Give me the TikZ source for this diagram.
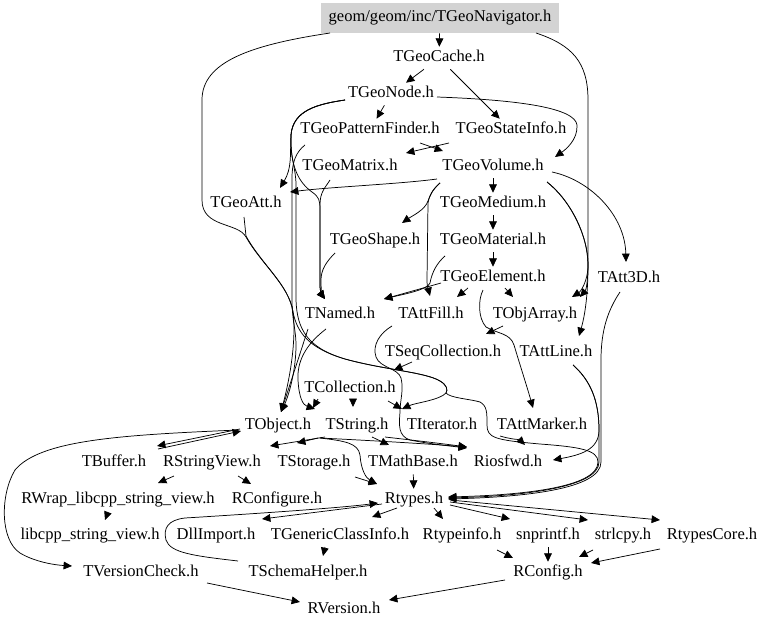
\documentclass[tikz,border=0pt]{standalone}
\usepackage{fontspec}
\setmainfont{Liberation Serif}
\usetikzlibrary{arrows.meta,calc}
\definecolor{navgray}{RGB}{211,211,211}
\newcommand\lblfont{\fontsize{12.4}{14}\selectfont}
\begin{document}
\begin{tikzpicture}[x=0.75pt,y=-0.75pt,
 n/.style={inner xsep=2pt,inner ysep=2.5pt,text height=8.5pt,text depth=3pt,font=\lblfont},
 e/.style={line width=0.55pt,-{Triangle[length=6.3pt,width=5.8pt]}}]
\useasboundingbox (0,0) rectangle (768,628);
% nodes
\node[n,fill=navgray,minimum width=178.5pt,minimum height=22.5pt] (nav) at (440,18) {geom/geom/inc/TGeoNavigator.h};
\node[n] (cache) at (439,58) {TGeoCache.h};
\node[n] (gnode) at (391,94) {TGeoNode.h};
\node[n] (pf) at (370,130) {TGeoPatternFinder.h};
\node[n] (si) at (511,130) {TGeoStateInfo.h};
\node[n] (mat) at (350,167) {TGeoMatrix.h};
\node[n] (vol) at (493,167) {TGeoVolume.h};
\node[n] (att) at (246,204) {TGeoAtt.h};
\node[n] (med) at (493,204) {TGeoMedium.h};
\node[n] (shape) at (375,241) {TGeoShape.h};
\node[n] (mate) at (493,241) {TGeoMaterial.h};
\node[n] (elem) at (493,278) {TGeoElement.h};
\node[n] (att3d) at (629,279) {TAtt3D.h};
\node[n] (named) at (340,315) {TNamed.h};
\node[n] (fill) at (431,315) {TAttFill.h};
\node[n] (objarr) at (535,315) {TObjArray.h};
\node[n] (seq) at (443,353) {TSeqCollection.h};
\node[n] (aline) at (556,353) {TAttLine.h};
\node[n] (coll) at (350,389) {TCollection.h};
\node[n] (obj) at (278,426) {TObject.h};
\node[n] (str) at (357,426) {TString.h};
\node[n] (iter) at (442,426) {TIterator.h};
\node[n] (marker) at (542,426) {TAttMarker.h};
\node[n] (buf) at (114,463) {TBuffer.h};
\node[n] (rsv) at (212,463) {RStringView.h};
\node[n] (stor) at (314,463) {TStorage.h};
\node[n] (mathb) at (413,463) {TMathBase.h};
\node[n] (ios) at (508,463) {Riosfwd.h};
\node[n] (rwrap) at (118,500) {RWrap\_libcpp\_string\_view.h};
\node[n] (rconf) at (277,500) {RConfigure.h};
\node[n] (rtypes) at (414,500) {Rtypes.h};
\node[n] (libcpp) at (90,536) {libcpp\_string\_view.h};
\node[n] (dll) at (216,536) {DllImport.h};
\node[n] (gci) at (340,536) {TGenericClassInfo.h};
\node[n] (rtinfo) at (462,536) {Rtypeinfo.h};
\node[n] (snp) at (548,536) {snprintf.h};
\node[n] (strl) at (623,536) {strlcpy.h};
\node[n] (rcore) at (712,536) {RtypesCore.h};
\node[n] (vcheck) at (141,573) {TVersionCheck.h};
\node[n] (schema) at (308,573) {TSchemaHelper.h};
\node[n] (rconfig) at (548,573) {RConfig.h};
\node[n] (rver) at (344,610) {RVersion.h};
% top edges
\draw[e] (nav) -- (cache);
\draw[e] ($(nav)+(-110,15)$) .. controls (250,45) and (202,62) .. (202,100) -- (202,200) .. controls (202,228) and (238,222) .. (246,237) .. controls (262,265) and (289,285) .. (293,312) .. controls (296,335) and (292,370) .. ($(obj)+(3,-14)$);
\draw[e] ($(nav)+(96,15)$) .. controls (572,45) and (588,62) .. (588,100) -- (588,262) .. controls (588,282) and (586,290) .. ($(objarr)+(45,-18)$);
\draw[e] (cache) -- (gnode);
\draw[e] (cache) -- (si);
\draw[e] ($(gnode)+(46,3)$) .. controls (520,100) and (575,108) .. (577,125) .. controls (578,140) and (565,150) .. ($(vol)+(62,-10)$);
\draw[e] (gnode) -- (pf);
\draw[e] ($(gnode)+(-46,6)$) .. controls (318,104) and (293,110) .. (291,135) .. controls (290,155) and (292,168) .. ($(att)+(34,-16)$);
\draw[e] ($(gnode)+(-46,6)$) .. controls (318,104) and (293,110) .. (291,135) .. controls (290,165) and (298,182) .. (312,192) .. controls (319,197) and (320,200) .. (320,210) -- (320,285) .. controls (320,292) and (322,295) .. ($(named)+(-15,-16)$);
\draw[e] ($(gnode)+(-46,6)$) .. controls (318,104) and (293,110) .. (291,135) .. controls (290,158) and (296,168) .. (296,185) -- (296,300) .. controls (297,330) and (308,348) .. (345,359) .. controls (385,370) and (425,372) .. (440,381) .. controls (447,385) and (448,390) .. (446,393) .. controls (440,400) and (415,403) .. ($(iter)+(-40,-17)$);
\draw[e] ($(pf)+(-65,15)$) .. controls (296,152) and (292,162) .. (292,178) -- (292,300) .. controls (292,320) and (296,330) .. (296,345) .. controls (296,370) and (289,395) .. ($(obj)+(3,-14)$);
\draw[e] ($(pf)+(50,13)$) -- ($(vol)+(-50,-16)$);
\draw[e] ($(si)+(-62,13)$) -- ($(mat)+(56,-14)$);
\draw[e] ($(mat)+(-20,13)$) .. controls (325,188) and (320,192) .. (320,205) -- (320,285) .. controls (320,292) and (322,295) .. ($(named)+(-15,-16)$);
\draw[e] ($(shape)+(-40,12)$) .. controls (326,262) and (321,270) .. (321,280) .. controls (321,290) and (322,295) .. ($(named)+(-15,-16)$);
\draw[e] ($(vol)+(-56,12)$) .. controls (400,184) and (330,187) .. ($(att)+(44,-12)$);
\draw[e] ($(vol)+(-53,16)$) .. controls (432,190) and (430,196) .. (428,201) .. controls (425,210) and (412,216) .. ($(shape)+(27,-18)$);
\draw[e] ($(vol)+(-53,16)$) .. controls (432,190) and (429,196) .. (428,203) -- (427,280) .. controls (427,288) and (429,292) .. ($(fill)+(-1,-19)$);
\draw[e] (vol) -- (med);
\draw[e] (med) -- (mate);
\draw[e] (mate) -- (elem);
\draw[e] ($(vol)+(59,5)$) .. controls (590,180) and (625,215) .. ($(att3d)+(-3,-17)$);
\draw[e] ($(vol)+(54,15)$) .. controls (570,200) and (588,235) .. (588,265) .. controls (588,282) and (580,292) .. ($(objarr)+(37,-18)$);
\draw[e] ($(vol)+(54,15)$) .. controls (570,200) and (588,235) .. (588,265) .. controls (588,295) and (585,315) .. ($(aline)+(23,-17)$);
\draw[e] ($(mate)+(-48,15)$) .. controls (437,263) and (432,272) .. (430,283) .. controls (428,290) and (400,295) .. ($(named)+(44,-16)$);
\draw[e] ($(elem)+(-52,5)$) -- ($(named)+(44,-16)$);
\draw[e] ($(elem)+(-25,10)$) -- ($(fill)+(26,-18)$);
\draw[e] ($(elem)+(12,10)$) -- ($(objarr)+(-22,-18)$);
\draw[e] ($(elem)+(-10,12)$) .. controls (478,300) and (478,318) .. (486,327) .. controls (498,334) and (510,333) .. (514,345) .. controls (520,365) and (528,390) .. ($(marker)+(-9,-18)$);
% middle edges
\draw[e] ($(att)+(-2,13)$) -- (246,236) .. controls (262,265) and (289,285) .. (293,312) .. controls (297,332) and (308,348) .. (345,359) .. controls (385,370) and (425,372) .. (440,381) .. controls (447,385) and (448,390) .. (446,393) .. controls (450,398) and (470,399) .. (480,402) .. controls (487,406) and (487,412) .. (487,425) .. controls (487,438) and (495,440) .. (540,444) .. controls (580,447) and (598,450) .. (598,462) .. controls (598,488) and (520,495) .. ($(rtypes)+(34,-3)$);
\draw[e] ($(objarr)+(-32,11)$) -- ($(seq)+(43,-19)$);
\draw[e] ($(seq)+(-31,9)$) -- ($(coll)+(44,-19)$);
\draw[e] ($(coll)+(38,12)$) -- ($(iter)+(-40,-17)$);
\draw[e] ($(coll)+(3,10)$) -- ($(str)+(-4,-19)$);
\draw[e] ($(coll)+(-32,10)$) -- ($(obj)+(35,-18)$);
\draw[e] ($(named)+(-32,14)$) -- ($(obj)+(3,-14)$);
\draw[e] ($(named)+(-14,14)$) .. controls (305,345) and (297,362) .. (298,380) .. controls (299,398) and (303,405) .. ($(str)+(-42,-17)$);
\draw[e] ($(fill)+(-39,11)$) .. controls (380,333) and (372,345) .. (376,357) .. controls (380,368) and (398,368) .. (401,378) .. controls (404,390) and (400,400) .. (400,412) .. controls (399,425) and (398,436) .. (410,440) .. controls (430,444) and (450,446) .. ($(ios)+(-41,-15)$);
\draw[e] ($(aline)+(17,12)$) .. controls (590,380) and (599,400) .. (599,430) -- (599,462) .. controls (599,488) and (520,496) .. ($(rtypes)+(34,-2)$);
\draw[e] ($(att3d)+(-9,13)$) .. controls (608,310) and (601,330) .. (601,360) -- (601,462) .. controls (601,490) and (520,497) .. ($(rtypes)+(34,-1)$);
\draw[e] ($(aline)+(17,12)$) .. controls (590,380) and (599,400) .. (599,430) .. controls (599,450) and (580,455) .. ($(ios)+(45,-3)$);
\draw[e] ($(marker)+(-42,10)$) .. controls (510,439) and (520,440) .. ($(ios)+(17,-18)$);
\draw[e] ($(obj)+(42,12)$) .. controls (380,441) and (430,444) .. ($(ios)+(-41,-16)$);
\draw[e] ($(str)+(28,11)$) .. controls (420,441) and (445,444) .. ($(ios)+(-41,-16)$);
\draw[e] ($(str)+(15,11)$) -- ($(mathb)+(-24,-18)$);
\draw[e] ($(obj)+(40,12)$) -- ($(stor)+(-17,-20)$);
\draw[e] ($(str)+(-32,11)$) -- ($(rsv)+(58,-17)$);
\draw[e] ($(obj)+(42,12)$) .. controls (345,441) and (358,443) .. (360,455) .. controls (361,470) and (366,478) .. ($(rtypes)+(-37,-16)$);
\draw[e] ($(stor)+(41,14)$) -- ($(rtypes)+(-37,-16)$);
\draw[e] (mathb) -- (rtypes);
\draw[e] ($(obj)+(-38,3)$) -- ($(buf)+(43,-17)$);
\draw[e] ($(buf)+(44,-14)$) -- ($(obj)+(-37,5)$);
\draw[e] ($(obj)+(-40,4)$) .. controls (120,435) and (40,440) .. (15,470) .. controls (0,495) and (0,540) .. (20,553) .. controls (35,562) and (55,565) .. ($(vcheck)+(-69,-7)$);
% lower edges
\draw[e] ($(rsv)+(-38,13)$) -- ($(rwrap)+(40,-17)$);
\draw[e] ($(rsv)+(26,13)$) -- ($(rconf)+(-26,-16)$);
\draw[e] ($(rwrap)+(-10,12)$) -- ($(libcpp)+(15,-16)$);
\draw[e] ($(rtypes)+(-32,4)$) -- ($(dll)+(46,-17)$);
\draw[e] ($(schema)+(-70,-12)$) .. controls (195,556) and (170,553) .. (166,540) .. controls (163,528) and (168,520) .. (185,518) .. controls (250,514) and (340,508) .. ($(rtypes)+(-36,3)$);
\draw[e] ($(rtypes)+(-17,8)$) -- ($(gci)+(32,-19)$);
\draw[e] ($(rtypes)+(20,8)$) -- ($(rtinfo)+(-19,-17)$);
\draw[e] ($(rtypes)+(36,5)$) -- ($(snp)+(-38,-17)$);
\draw[e] ($(rtypes)+(36,2)$) -- ($(strl)+(-35,-16)$);
\draw[e] ($(rtypes)+(36,0)$) -- ($(rcore)+(-52,-16)$);
\draw[e] ($(gci)+(-15,11)$) -- ($(schema)+(15,-17)$);
\draw[e] ($(rtinfo)+(35,14)$) -- ($(rconfig)+(-35,-15)$);
\draw[e] (snp) -- (rconfig);
\draw[e] ($(strl)+(-30,14)$) -- ($(rconfig)+(31,-16)$);
\draw[e] ($(rcore)+(-52,13)$) -- ($(rconfig)+(43,-10)$);
\draw[e] ($(rconfig)+(-43,7)$) -- ($(rver)+(45,-10)$);
\draw[e] ($(vcheck)+(66,10)$) -- ($(rver)+(-44,-8)$);
\end{tikzpicture}
\end{document}
